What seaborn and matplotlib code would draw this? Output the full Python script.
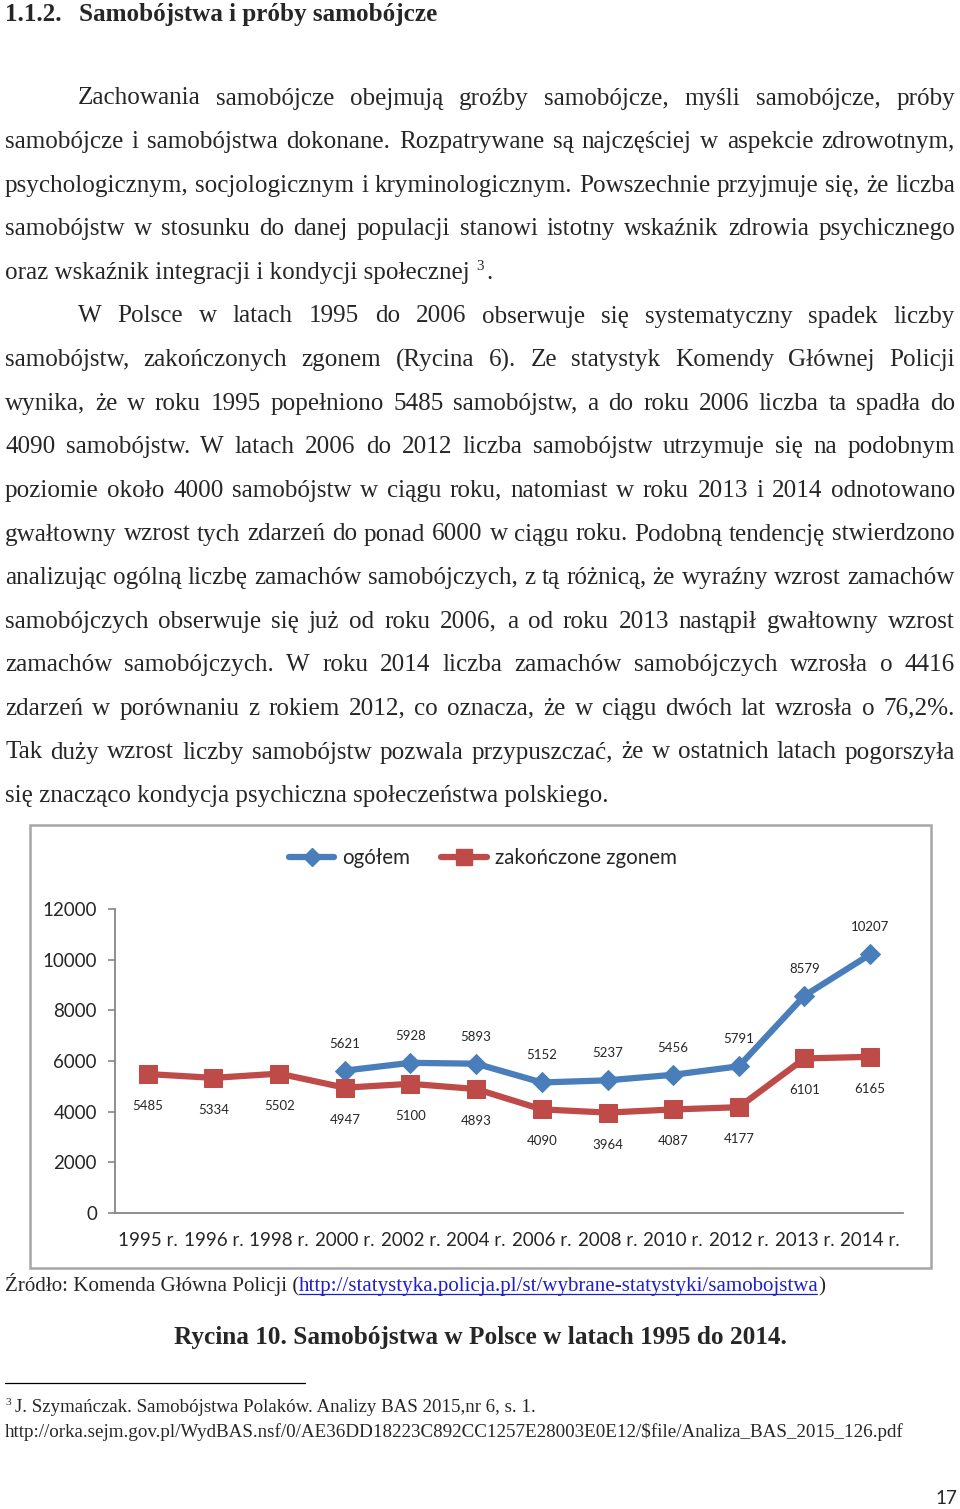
import matplotlib
matplotlib.use("Agg")
import matplotlib.pyplot as plt
from matplotlib.patches import Rectangle
from matplotlib.lines import Line2D
import numpy as np
import pandas as pd
import seaborn as sns

# dane z wykresu
years = ['1995 r.', '1996 r.', '1998 r.', '2000 r.', '2002 r.', '2004 r.',
         '2006 r.', '2008 r.', '2010 r.', '2012 r.', '2013 r.', '2014 r.']
ogolem_years = ['2000 r.', '2002 r.', '2004 r.', '2006 r.', '2008 r.',
                '2010 r.', '2012 r.', '2013 r.', '2014 r.']
ogolem = [5621, 5928, 5893, 5152, 5237, 5456, 5791, 8579, 10207]
zgon = [5485, 5334, 5502, 4947, 5100, 4893, 4090, 3964, 4087, 4177, 6101, 6165]
y_ticks = [0, 2000, 4000, 6000, 8000, 10000, 12000]
series_names = ['ogółem', 'zakończone zgonem']

heading_num = '1.1.2.'
heading = 'Samobójstwa i próby samobójcze'
para1 = [
    'Zachowania samobójcze obejmują groźby samobójcze, myśli samobójcze, próby',
    'samobójcze i samobójstwa dokonane. Rozpatrywane są najczęściej w aspekcie zdrowotnym,',
    'psychologicznym, socjologicznym i kryminologicznym. Powszechnie przyjmuje się, że liczba',
    'samobójstw w stosunku do danej populacji stanowi istotny wskaźnik zdrowia psychicznego',
    'oraz wskaźnik integracji i kondycji społecznej',
]
para2 = [
    'W Polsce w latach 1995 do 2006 obserwuje się systematyczny spadek liczby',
    'samobójstw, zakończonych zgonem (Rycina 6). Ze statystyk Komendy Głównej Policji',
    'wynika, że w roku 1995 popełniono 5485 samobójstw, a do roku 2006 liczba ta spadła do',
    '4090 samobójstw. W latach 2006 do 2012 liczba samobójstw utrzymuje się na podobnym',
    'poziomie około 4000 samobójstw w ciągu roku, natomiast w roku 2013 i 2014 odnotowano',
    'gwałtowny wzrost tych zdarzeń do ponad 6000 w ciągu roku. Podobną tendencję stwierdzono',
    'analizując ogólną liczbę zamachów samobójczych, z tą różnicą, że wyraźny wzrost zamachów',
    'samobójczych obserwuje się już od roku 2006, a od roku 2013 nastąpił gwałtowny wzrost',
    'zamachów samobójczych. W roku 2014 liczba zamachów samobójczych wzrosła o 4416',
    'zdarzeń w porównaniu z rokiem 2012, co oznacza, że w ciągu dwóch lat wzrosła o 76,2%.',
    'Tak duży wzrost liczby samobójstw pozwala przypuszczać, że w ostatnich latach pogorszyła',
    'się znacząco kondycja psychiczna społeczeństwa polskiego.',
]
source_txt = 'Źródło: Komenda Główna Policji ('
source_url = 'http://statystyka.policja.pl/st/wybrane-statystyki/samobojstwa'
caption = 'Rycina 10. Samobójstwa w Polsce w latach 1995 do 2014.'
footnote1 = 'J. Szymańczak. Samobójstwa Polaków. Analizy BAS 2015,nr 6, s. 1.'
footnote2 = 'http://orka.sejm.gov.pl/WydBAS.nsf/0/AE36DD18223C892CC1257E28003E0E12/$file/Analiza_BAS_2015_126.pdf'
page_no = '17'

sns.set_style('white')
SERIF = 'Liberation Serif'
SANS = 'Lato'
plt.rcParams['font.family'] = [SANS, 'DejaVu Sans']

BLUE = '#4a7ebb'
RED = '#be4b48'
GREY = '#868686'

W, H = 960, 1509
fig = plt.figure(figsize=(W / 100, H / 100), dpi=100)
page = fig.add_axes([0, 0, 1, 1])
page.set_xlim(0, W)
page.set_ylim(H, 0)
page.axis('off')
renderer = fig.canvas.get_renderer()


def width(t):
    return t.get_window_extent(renderer).width


def put(x, y, s, size, **kw):
    kw.setdefault('family', SERIF)
    return page.text(x, y, s, fontsize=size, va='baseline', parse_math=False, **kw)


def fit_size(s, target, **kw):
    t = put(0, 0, s, 20, **kw)
    w = width(t)
    t.remove()
    return 20 * target / w


def justify(y, s, left, right, size):
    ts = [put(0, y, w, size) for w in s.split()]
    ws = [width(t) for t in ts]
    gap = (right - left - sum(ws)) / (len(ws) - 1)
    x = left
    for t, w in zip(ts, ws):
        t.set_x(x)
        x += w + gap


# naglowek
hs = fit_size(heading, 358, weight='bold')
put(5, 21, heading_num, hs, weight='bold')
put(79, 21, heading, hs, weight='bold')

# tekst glowny
bs = fit_size(para1[-1], 465)
y0, step = 104.5, 43.6
lines = [(l, i == 0, i == len(para1) - 1) for i, l in enumerate(para1)]
lines += [(l, i == 0, i == len(para2) - 1) for i, l in enumerate(para2)]
for k, (line, first, last) in enumerate(lines):
    y = y0 + k * step
    left = 78 if first else 5
    if last:
        t = put(left, y, line, bs)
        if k == len(para1) - 1:
            x = left + width(t)
            s3 = put(x + 7, y - 9, '3', bs * 0.6)
            put(x + 7 + width(s3) + 2, y, '.', bs)
    else:
        justify(y, line, left, 955, bs)

# wykres
page.add_patch(Rectangle((30, 825), 901, 443, fill=False, ec='#a6a6a6', lw=1.8))
ax = fig.add_axes([115 / W, 1 - 1213 / H, (903 - 115) / W, (1213 - 909) / H])
ax.patch.set_alpha(0)

pos = list(range(len(years)))
df_o = pd.DataFrame({'x': [years.index(y) for y in ogolem_years], 'v': ogolem})
df_z = pd.DataFrame({'x': pos, 'v': zgon})
sns.lineplot(data=df_o, x='x', y='v', ax=ax, color=BLUE, lw=4.5, marker='D',
             markersize=10.5, markeredgecolor=BLUE)
sns.lineplot(data=df_z, x='x', y='v', ax=ax, color=RED, lw=4.5, marker='s',
             markersize=12.5, markeredgecolor=RED)

for x, v in zip(df_o['x'], df_o['v']):
    ax.annotate(str(v), (x, v), xytext=(0, 19.5), textcoords='offset points',
                ha='center', va='center', fontsize=9.5)
for x, v in zip(df_z['x'], df_z['v']):
    ax.annotate(str(v), (x, v), xytext=(0, -23), textcoords='offset points',
                ha='center', va='center', fontsize=9.5)

ax.set_xlim(-0.5, len(years) - 0.5)
ax.set_ylim(0, 12000)
ax.set_yticks(y_ticks)
ax.set_yticklabels([str(v) for v in y_ticks], fontsize=13.5)
ax.set_xticks(pos)
ax.set_xticklabels(years, fontsize=13.5)
ax.set_xticks(np.arange(-0.5, len(years), 1), minor=True)
ax.tick_params(axis='x', which='major', length=0, pad=14)
ax.tick_params(axis='x', which='minor', length=5, width=1.2, color=GREY, direction='out')
ax.tick_params(axis='y', length=5, width=1.2, color=GREY, direction='out', pad=8, left=True)
ax.set_xlabel('')
ax.set_ylabel('')
for side in ['top', 'right']:
    ax.spines[side].set_visible(False)
for side in ['left', 'bottom']:
    ax.spines[side].set_color(GREY)
    ax.spines[side].set_linewidth(1.3)

handles = [Line2D([], [], color=BLUE, lw=4.5, marker='D', markersize=9),
           Line2D([], [], color=RED, lw=4.5, marker='s', markersize=11)]
fig.legend(handles, series_names, loc='center', bbox_to_anchor=(483 / W, 1 - 858 / H),
           ncol=2, frameon=False, fontsize=14.8, handlelength=2.2,
           handletextpad=0.4, columnspacing=1.5)

# zrodlo, podpis, przypis
ss = fit_size(source_txt + source_url + ')', 820)
t1 = put(5, 1291, source_txt, ss)
x = 5 + width(t1)
t2 = put(x, 1291, source_url, ss, color='#2020c8')
w2 = width(t2) - 2
page.plot([x, x + w2], [1293.5, 1293.5], color='#2020c8', lw=0.9)
put(x + w2 + 1, 1291, ')', ss)

cs = fit_size(caption, 610, weight='bold')
put(480, 1344, caption, cs, weight='bold', ha='center')

page.plot([5, 305], [1383, 1383], color='black', lw=0.9)
fs1 = fit_size(footnote1, 522)
put(5, 1405, '3', fs1 * 0.6)
put(15, 1412, footnote1, fs1)
fs2 = fit_size(footnote2, 895)
put(5, 1437, footnote2, fs2)

page.text(957, 1499, page_no, fontsize=13.5, ha='right', va='center', family=SANS)

fig.savefig('out.png', dpi=100)
